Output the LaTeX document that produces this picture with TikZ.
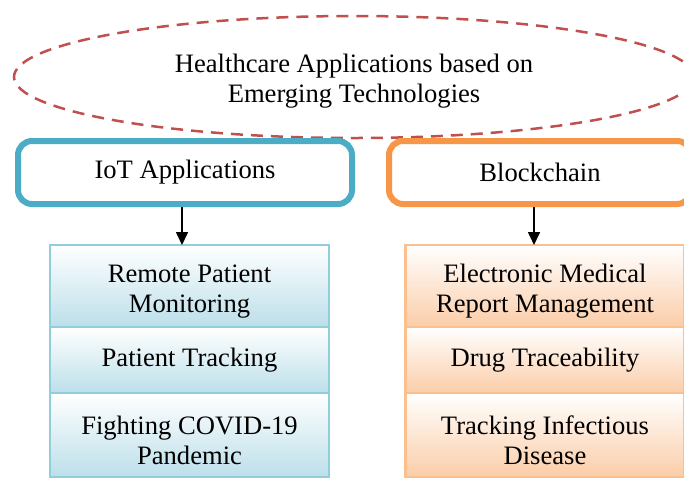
\documentclass[tikz,border=0pt]{standalone}
\usepackage{fontspec}
\setmainfont{Liberation Serif}
\usetikzlibrary{positioning,shapes.geometric,arrows.meta}
\definecolor{ovalred}{HTML}{C0504D}
\definecolor{iotblue}{HTML}{4BACC6}
\definecolor{iotedge}{HTML}{92CDDC}
\definecolor{iotfill}{HTML}{BCDFEA}
\definecolor{chainorange}{HTML}{F79646}
\definecolor{chainedge}{HTML}{FAC090}
\definecolor{chainfill}{HTML}{FBCDA8}
\newcommand{\topstrut}[1]{\rule{0pt}{#1}}

\begin{document}
\begin{tikzpicture}[x=1pt, y=-1pt, font=\fontsize{26.6}{30}\selectfont,
    head/.style = {draw, line width=6pt, rounded corners=14pt, minimum height=63pt, fill=white},
    item/.style = {draw, line width=2.5pt, outer sep=0pt, inner sep=0pt, align=center, minimum width=279pt},
    iot/.style = {item, draw=iotedge, top color=white, bottom color=iotfill},
    chain/.style = {item, draw=chainedge, top color=white, bottom color=chainfill},
    link/.style = {line width=1.6pt, -{Triangle[length=13pt, width=12pt]}}]
    \useasboundingbox (0,0) rectangle (684,480);
    \clip (0,0) rectangle (684,480);
    % top oval
    \node[ellipse, draw=ovalred, line width=2.5pt, dash pattern=on 12pt off 8pt,
          minimum width=680pt, minimum height=122pt, align=center] (title) at (354,77)
          {\topstrut{26pt}Healthcare Applications based on\\Emerging Technologies};
    % two headings
    \node[head, draw=iotblue, minimum width=334pt] (iotapp) at (185,172.5) {IoT Applications};
    \node[head, draw=chainorange, minimum width=302pt] (block) at (540,172.5) {Blockchain};
    % IoT column
    \node[iot, minimum height=82pt] (remote) at (189.5,286) {\topstrut{29pt}Remote Patient\\Monitoring};
    \node[iot, minimum height=66pt] (track) [below=0pt of remote] {Patient Tracking};
    \node[iot, minimum height=84pt] (covid) [below=0pt of track] {\topstrut{29pt}Fighting COVID-19\\Pandemic};
    % blockchain column
    \node[chain, minimum height=82pt] (emr) at (545,286) {\topstrut{29pt}Electronic Medical\\Report Management};
    \node[chain, minimum height=66pt] (drug) [below=0pt of emr] {Drug Traceability};
    \node[chain, minimum height=84pt] (infect) [below=0pt of drug] {\topstrut{29pt}Tracking Infectious\\Disease};
    \draw[link] ([xshift=-3pt]iotapp.south) -- ([xshift=-3pt]iotapp.south |- remote.north);
    \draw[link] ([xshift=-6pt]block.south) -- ([xshift=-6pt]block.south |- emr.north);
\end{tikzpicture}
\end{document}
